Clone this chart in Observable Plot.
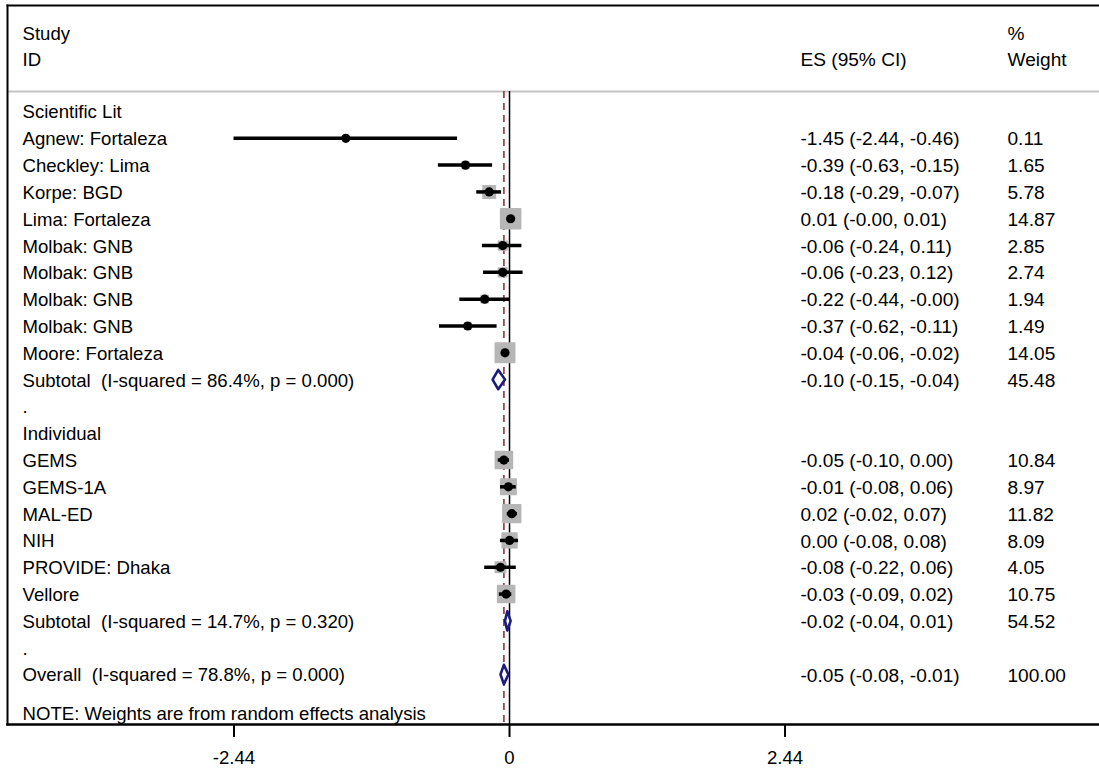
<!DOCTYPE html>
<html><head><meta charset="utf-8">
<script src="https://cdn.jsdelivr.net/npm/d3@7"></script>
<script src="https://cdn.jsdelivr.net/npm/@observablehq/plot@0.6"></script>
<style>
body{margin:0;background:#fff}
svg{display:block}
svg text{white-space:pre}
</style>
</head><body><div id="chart"></div>
<script>
// ---- data ----
const rowLabels = ["Scientific Lit","Agnew: Fortaleza","Checkley: Lima","Korpe: BGD","Lima: Fortaleza","Molbak: GNB","Molbak: GNB","Molbak: GNB","Molbak: GNB","Moore: Fortaleza","Subtotal  (I-squared = 86.4%, p = 0.000)",".","Individual","GEMS","GEMS-1A","MAL-ED","NIH","PROVIDE: Dhaka","Vellore","Subtotal  (I-squared = 14.7%, p = 0.320)",".","Overall  (I-squared = 78.8%, p = 0.000)"];
const rowKinds = ["group","study","study","study","study","study","study","study","study","study","subtotal","blank","group","study","study","study","study","study","study","subtotal","blank","overall"];
const esValues = [null,-1.45,-0.39,-0.18,0.01,-0.06,-0.06,-0.22,-0.37,-0.04,-0.10,null,null,-0.05,-0.01,0.02,0.00,-0.08,-0.03,-0.02,null,-0.05];
const ciLow    = [null,-2.44,-0.63,-0.29,-0.00,-0.24,-0.23,-0.44,-0.62,-0.06,-0.15,null,null,-0.10,-0.08,-0.02,-0.08,-0.22,-0.09,-0.04,null,-0.08];
const ciHigh   = [null,-0.46,-0.15,-0.07,0.01,0.11,0.12,-0.00,-0.11,-0.02,-0.04,null,null,0.00,0.06,0.07,0.08,0.06,0.02,0.01,null,-0.01];
const weights  = [null,0.11,1.65,5.78,14.87,2.85,2.74,1.94,1.49,14.05,45.48,null,null,10.84,8.97,11.82,8.09,4.05,10.75,54.52,null,100.00];
const esLabels = ["","-1.45 (-2.44, -0.46)","-0.39 (-0.63, -0.15)","-0.18 (-0.29, -0.07)","0.01 (-0.00, 0.01)","-0.06 (-0.24, 0.11)","-0.06 (-0.23, 0.12)","-0.22 (-0.44, -0.00)","-0.37 (-0.62, -0.11)","-0.04 (-0.06, -0.02)","-0.10 (-0.15, -0.04)","","","-0.05 (-0.10, 0.00)","-0.01 (-0.08, 0.06)","0.02 (-0.02, 0.07)","0.00 (-0.08, 0.08)","-0.08 (-0.22, 0.06)","-0.03 (-0.09, 0.02)","-0.02 (-0.04, 0.01)","","-0.05 (-0.08, -0.01)"];
const weightLabels = ["","0.11","1.65","5.78","14.87","2.85","2.74","1.94","1.49","14.05","45.48","","","10.84","8.97","11.82","8.09","4.05","10.75","54.52","","100.00"];
const tickValues = [-2.44, 0, 2.44];
const tickLabels = ["-2.44", "0", "2.44"];
const noteText = "NOTE: Weights are from random effects analysis";
const headerLeft = ["Study", "ID"];
const headerWeight = ["%", "Weight"];
const headerES = "ES (95% CI)";

// ---- layout constants ----
const W = 1099, H = 768;
const xDomain = [-4.446, 5.225];
const yDomain = [-3.954, 22.865];
const sepRow = -0.75;
const noteRow = 22.49;
const diamondHalf = 0.36;
const font = "'Liberation Sans', Arial, sans-serif";
const fs = 18.6;
const fsNum = 19.1;

const rows = rowLabels.map((label, i) => ({
  row: i, label, kind: rowKinds[i], es: esValues[i], lo: ciLow[i], hi: ciHigh[i],
  w: weights[i], esText: esLabels[i], wText: weightLabels[i]
}));
const studies = rows.filter(d => d.kind === "study");
const summaries = rows.filter(d => d.kind === "subtotal" || d.kind === "overall");
const diamonds = summaries.flatMap(d => [
  {id: d.row, x: d.lo, y: d.row},
  {id: d.row, x: d.es, y: d.row - diamondHalf},
  {id: d.row, x: d.hi, y: d.row},
  {id: d.row, x: d.es, y: d.row + diamondHalf}
]);
const overallES = summaries.find(d => d.kind === "overall").es;

const chart = Plot.plot({
  width: W, height: H,
  marginLeft: 7, marginRight: 0, marginTop: 5, marginBottom: 44,
  style: {fontFamily: font, fontSize: fs + "px", color: "#000", background: "#fff"},
  x: {domain: xDomain},
  y: {domain: yDomain, reverse: true, axis: null},
  r: {type: "sqrt", domain: [0, 1], range: [0, 2.93], clamp: false},
  marks: [
    // header separator
    Plot.ruleY([sepRow], {stroke: "#c4c4c4", strokeWidth: 2}),
    // reference lines
    Plot.ruleX([0], {y1: sepRow, y2: yDomain[1], stroke: "#000", strokeWidth: 1.5}),
    Plot.ruleX([overallES], {y1: sepRow, y2: yDomain[1], stroke: "#9e4452", strokeWidth: 1.8, strokeDasharray: "7,5"}),
    // weight squares
    Plot.dot(studies, {x: "es", y: "row", r: "w", symbol: "square", fill: "#b6b6b6", stroke: "#b6b6b6", strokeWidth: 1.5, strokeLinejoin: "round"}),
    // CIs
    Plot.ruleY(studies, {y: "row", x1: "lo", x2: "hi", stroke: "#000", strokeWidth: 3.5}),
    // point estimates
    Plot.dot(studies, {x: "es", y: "row", r: 4.6, fill: "#000", stroke: null}),
    // diamonds
    Plot.line(diamonds, {x: "x", y: "y", z: "id", curve: "linear-closed", stroke: "#1c1c7c", strokeWidth: 2.6, fill: "#fff"}),
    // left labels
    Plot.text(rows, {y: "row", text: "label", frameAnchor: "left", dx: 15, dy: 1, textAnchor: "start", fill: "#000"}),
    Plot.text(rows, {y: "row", text: "esText", frameAnchor: "left", dx: 793, dy: 1, textAnchor: "start", fill: "#000", fontSize: fsNum}),
    Plot.text(rows, {y: "row", text: "wText", frameAnchor: "left", dx: 1000, dy: 1, textAnchor: "start", fill: "#000", fontSize: fsNum}),
    // headers
    Plot.text(headerLeft, {y: (d, i) => -2.93 + i * 0.98, text: d => d, frameAnchor: "left", dx: 15, dy: 1, textAnchor: "start"}),
    Plot.text(headerWeight, {y: (d, i) => -2.93 + i * 0.98, text: d => d, frameAnchor: "left", dx: 1000, dy: 1, textAnchor: "start", fontSize: fsNum}),
    Plot.text([headerES], {y: -1.95, text: d => d, frameAnchor: "left", dx: 793, dy: 1, textAnchor: "start", fontSize: fsNum}),
    Plot.text([noteText], {y: noteRow, text: d => d, frameAnchor: "left", dx: 15, textAnchor: "start"}),
    // frame
    Plot.frame({anchor: "top", stroke: "#000", strokeWidth: 2}),
    Plot.frame({anchor: "left", stroke: "#000", strokeWidth: 2}),
    Plot.frame({anchor: "bottom", stroke: "#000", strokeWidth: 2.5}),
    // axis
    Plot.axisX({ticks: tickValues, tickFormat: (d, i) => tickLabels[tickValues.indexOf(d)], tickSize: 13, tickPadding: 13, strokeWidth: 2, fontSize: fs, anchor: "bottom", label: null})
  ]
});
document.getElementById("chart").append(chart);
</script>
</body></html>
